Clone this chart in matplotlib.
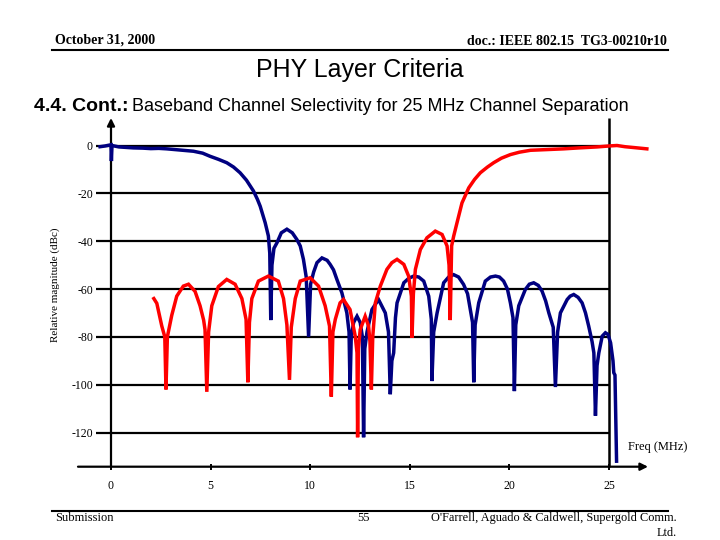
import matplotlib
matplotlib.use("Agg")
import matplotlib.pyplot as plt

plt.rcParams['axes.unicode_minus'] = False

# ---------------- data ----------------
blue_freq = [-0.55, -0.3, 0.0, 0.02, 0.05, 0.4, 0.8, 1.12, 1.6, 2.0, 2.4, 2.8, 3.2, 3.6, 4.14,
             4.6, 4.97, 5.4, 5.81, 6.15, 6.48, 6.8, 7.15, 7.35, 7.49, 7.62, 7.74, 7.9, 7.97,
             8.02, 8.08, 8.18, 8.33, 8.55, 8.83, 9.1, 9.33, 9.5, 9.66, 9.8, 9.92, 10.02, 10.17,
             10.34, 10.59, 10.85, 11.0, 11.17, 11.34, 11.59, 11.84, 11.95, 12.0, 12.06, 12.18,
             12.35, 12.51, 12.62, 12.68, 12.74, 12.85, 13.1, 13.43, 13.77, 13.93, 14.02, 14.1,
             14.19, 14.28, 14.36, 14.7, 14.95, 15.2, 15.45, 15.7, 15.95, 16.08, 16.11, 16.2,
             16.37, 16.7, 16.95, 17.2, 17.45, 17.7, 17.9, 18.04, 18.15, 18.21, 18.28, 18.46,
             18.79, 19.05, 19.3, 19.5, 19.71, 19.9, 20.05, 20.18, 20.25, 20.32, 20.47, 20.8,
             21.0, 21.22, 21.45, 21.64, 21.82, 21.98, 22.2, 22.31, 22.42, 22.56, 22.9, 23.05,
             23.23, 23.45, 23.65, 23.82, 23.98, 24.15, 24.24, 24.32, 24.4, 24.49, 24.66, 24.82,
             24.95, 25.08, 25.2, 25.24, 25.3, 25.38]
blue_db = [-0.5, -0.2, 0.3, -6.5, 0.0, -0.6, -0.8, -1.0, -1.1, -1.3, -1.2, -1.4, -1.7, -2.0, -2.4,
           -3.2, -4.5, -5.8, -7.2, -9.0, -11.4, -14.5, -19.0, -22.5, -25.4, -29.0, -32.3, -37.8, -45.0,
           -73.0, -50.0, -43.0, -40.7, -36.5, -35.0, -36.5, -39.3, -42.0, -47.6, -55.0, -80.0, -58.0, -53.0,
           -49.0, -47.0, -48.0, -49.7, -52.0, -56.0, -61.6, -70.0, -78.0, -102.0, -80.0, -74.0,
           -71.4, -74.0, -80.0, -122.0, -85.0, -78.0, -68.6, -64.4, -70.0, -78.0, -104.0, -90.0,
           -86.7, -72.0, -65.8, -57.4, -55.5, -54.6, -55.0, -56.7, -63.0, -72.7, -98.5, -78.0,
           -70.0, -57.4, -55.0, -54.0, -55.0, -58.1, -62.0, -68.6, -74.0, -99.0, -75.0, -65.8,
           -56.7, -55.0, -54.6, -55.0, -56.7, -60.0, -65.8, -72.0, -102.7, -75.0, -67.0, -60.2,
           -58.0, -57.4, -58.5, -60.9, -65.0, -70.0, -76.0, -101.0, -78.0, -70.0, -64.4, -63.0,
           -62.3, -63.5, -65.8, -70.0, -75.5, -82.0, -86.7, -113.0, -92.0, -86.7, -79.7, -78.3,
           -79.0, -82.5, -90.0, -95.0, -96.0, -132.0]

red_freq = [2.15, 2.3, 2.55, 2.7, 2.76, 2.83, 3.05, 3.3, 3.63, 3.89, 4.22, 4.47, 4.65, 4.72, 4.81,
            4.9, 5.06, 5.39, 5.81, 6.23, 6.57, 6.78, 6.87, 6.95, 7.07, 7.4, 7.9, 8.4, 8.66, 8.83,
            8.96, 9.05, 9.25, 9.5, 10.0, 10.42, 10.75, 10.97, 11.06, 11.14, 11.26, 11.5, 11.67,
            12.0, 12.26, 12.35, 12.38, 12.42, 12.51, 12.76, 12.93, 13.0, 13.07, 13.14, 13.27,
            13.52, 13.85, 14.1, 14.36, 14.7, 14.94, 15.08, 15.11, 15.18, 15.28, 15.53, 15.86,
            16.28, 16.62, 16.87, 16.97, 17.03, 17.1, 17.2, 17.37, 17.62, 17.96, 18.25, 18.54,
            18.9, 19.21, 19.6, 20.05, 20.5, 21.06, 21.9, 22.73, 23.5, 24.4, 25.0, 25.4, 25.8,
            26.3, 26.9]
red_db = [-64.0, -66.0, -75.5, -80.0, -102.0, -80.0, -71.0, -63.0, -58.8, -58.0, -61.0, -67.0, -73.0,
          -77.0, -103.0, -78.0, -67.0, -59.0, -56.0, -58.0, -64.0, -72.7, -99.0, -74.0, -64.0, -56.7,
          -54.6, -56.7, -64.0, -75.0, -98.0, -76.0, -64.0, -56.7, -55.3, -58.8, -67.0, -75.5, -105.0,
          -78.0, -72.7, -65.8, -64.4, -68.6, -79.7, -86.7, -122.0, -85.0, -77.0, -71.4, -75.5, -82.0,
          -102.0, -80.0, -65.8, -58.8, -51.8, -49.0, -47.6, -49.7, -54.6, -63.0, -80.4, -62.0, -51.8,
          -43.5, -38.6, -35.8, -37.2, -42.0, -50.0, -73.0, -42.0, -38.0, -32.3, -24.0, -17.7, -14.2,
          -11.4, -9.0, -7.2, -5.3, -3.8, -2.8, -2.0, -1.7, -1.4, -1.0, -0.6, -0.2, 0.0, -0.5,
          -0.9, -1.4]

y_ticks = [0, -20, -40, -60, -80, -100, -120]
y_tick_labels = ['0', '-20', '-40', '-60', '-80', '-100', '-120']
x_ticks = [0, 5, 10, 15, 20, 25]
x_tick_labels = ['0', '5', '10', '15', '20', '25']

# ---------------- figure ----------------
W, H = 720, 540
fig = plt.figure(figsize=(7.2, 5.4), dpi=100)
fig.patch.set_facecolor('white')

SERIF = 'Liberation Serif'
SANS = 'Liberation Sans'

def fx(px):
    return px / W

def fy(py):
    return 1 - py / H

# plot area: x 0..25 MHz -> px 111..609 ; y axis line px 118 (top) .. 466.7 (bottom)
x0_px, x1_px = 111, 609
ytop_px, ybot_px = 118, 466.7
db_per_px = 120 / (432.5 - 145.5)
ymax = (145.5 - ytop_px) * db_per_px
ymin = -(ybot_px - 145.5) * db_per_px

ax = fig.add_axes([fx(x0_px), fy(ybot_px), (x1_px - x0_px) / W, (ybot_px - ytop_px) / H])
ax.set_xlim(0, 25)
ax.set_ylim(ymin, ymax)
ax.patch.set_alpha(0)
for s in ax.spines.values():
    s.set_visible(False)

# grid lines
ax.hlines(y_ticks, 0, 25, colors='black', lw=1.6, zorder=1, clip_on=False)
ax.vlines([25], ymin, ymax, colors='black', lw=1.8, zorder=1, clip_on=False)

# axes with arrows
ax.annotate('', xy=(0, ymax), xytext=(0, ymin), xycoords='data',
            arrowprops=dict(arrowstyle='-|>', lw=1.6, color='black', mutation_scale=11,
                            shrinkA=0, shrinkB=0), annotation_clip=False, zorder=2)
xl = (78 - x0_px) / ((x1_px - x0_px) / 25)
xr = (648 - x0_px) / ((x1_px - x0_px) / 25)
ax.annotate('', xy=(xr, ymin), xytext=(xl, ymin), xycoords='data',
            arrowprops=dict(arrowstyle='-|>', lw=1.6, color='black', mutation_scale=11,
                            shrinkA=0, shrinkB=0), annotation_clip=False, zorder=2)

# data curves
ax.plot(blue_freq, blue_db, color='#000080', lw=2.5, zorder=3, clip_on=False,
        solid_joinstyle='miter')
ax.plot(red_freq, red_db, color='#ff0000', lw=2.5, zorder=4, clip_on=False,
        solid_joinstyle='miter')

# ticks
ax.set_yticks(y_ticks)
ax.set_yticklabels(y_tick_labels, fontfamily=SERIF, fontsize=8.5)
ax.tick_params(axis='y', direction='out', length=10.5, width=1.6, pad=2.5, color='black')
ax.set_xticks(x_ticks)
ax.set_xticklabels(x_tick_labels, fontfamily=SERIF, fontsize=8.5)
ax.tick_params(axis='x', direction='inout', length=5, width=1.4, pad=7, color='black')

fig.text(fx(55), fy(285), 'Relative magnitude (dBc)', rotation=90, ha='center', va='center',
         fontfamily=SERIF, fontsize=8)
fig.text(fx(687), fy(447), 'Freq (MHz)', ha='right', va='center', fontfamily=SERIF, fontsize=9)

# ---------------- slide texts ----------------
fig.text(fx(55), fy(44), 'October 31, 2000', ha='left', va='baseline', fontfamily=SERIF,
         fontsize=10, fontweight='bold')
fig.text(fx(667), fy(45), 'doc.: IEEE 802.15  TG3-00210r10', ha='right', va='baseline',
         fontfamily=SERIF, fontsize=10, fontweight='bold')
fig.add_artist(plt.Line2D([fx(52), fx(668)], [fy(50), fy(50)], color='black', lw=1.5))

fig.text(fx(360), fy(77), 'PHY Layer Criteria', ha='center', va='baseline', fontfamily=SANS,
         fontsize=18)

t1 = fig.text(fx(34), fy(111), '4.4. Cont.:', ha='left', va='baseline', fontfamily=SANS,
              fontsize=14, fontweight='bold')
fig.canvas.draw()
bb = t1.get_window_extent(renderer=fig.canvas.get_renderer())
fig.text(bb.x1 / W + fx(4), fy(111), 'Baseband Channel Selectivity for 25 MHz Channel Separation',
         ha='left', va='baseline', fontfamily=SANS, fontsize=13)

fig.add_artist(plt.Line2D([fx(52), fx(668)], [fy(511), fy(511)], color='black', lw=1.5))
fig.text(fx(55), fy(521), 'Submission', ha='left', va='baseline', fontfamily=SERIF, fontsize=9)
fig.text(fx(363), fy(521), '55', ha='center', va='baseline', fontfamily=SERIF, fontsize=9)
fig.text(fx(677), fy(521), "O'Farrell, Aguado & Caldwell, Supergold Comm.", ha='right',
         va='baseline', fontfamily=SERIF, fontsize=8.8)
fig.text(fx(677), fy(536), 'Ltd.', ha='right', va='baseline', fontfamily=SERIF, fontsize=8.8)

fig.savefig('out.png', dpi=100, facecolor='white')
